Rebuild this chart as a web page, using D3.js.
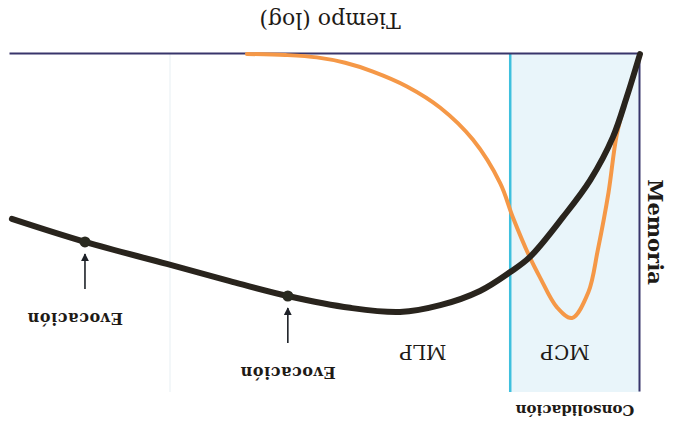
<!DOCTYPE html>
<html>
<head>
<meta charset="utf-8">
<script src="https://cdn.jsdelivr.net/npm/d3@7"></script>
<style>
  body { margin: 0; background: #fff; }
  text { font-family: "DejaVu Serif", serif; fill: #1e1a16; }
</style>
</head>
<body>
<script>
// the original figure is printed upside-down, so it is drawn normally and turned 180 deg
var width = 673;
var height = 427;

// tiempo (log, 0-100) / memoria (0-100)
var timeMLP = [0, 2.1, 4.3, 7.9, 12.2, 17.5, 20.6, 25.4, 31.7, 38.1, 46.0, 55.9, 65.1, 75.1, 88.1, 99.7];
var memMLP = [0, 12.7, 24.6, 37.3, 48.2, 60.1, 64.5, 70.1, 74.3, 76.3, 75.1, 71.6, 67.2, 62.1, 55.6, 48.8];

var timeMCP = [0, 2.1, 3.7, 5.0, 6.7, 8.2, 10.8, 13.2, 15.9, 17.5, 20.2, 22.2, 26.5, 31.7, 37.0, 42.4, 46.8, 51.3, 56.3, 62.4];
var memMCP = [0, 12.7, 24.0, 41.0, 58.0, 70.5, 78.1, 74.9, 66.0, 60.1, 48.2, 38.2, 25.4, 15.9, 9.6, 5.2, 2.6, 1.0, 0.3, 0];

var evocTime = [55.9, 88.1];
var evocMem = [71.6, 55.6];

var consolidacion = 20.6;
var faintLine = 74.6;

var svg = d3.select('body').append('svg').attr('width', width).attr('height', height);

// arrow head
svg.append('defs').append('marker')
    .attr('id', 'head')
    .attr('viewBox', '0 0 10 10')
    .attr('refX', 9).attr('refY', 5)
    .attr('markerWidth', 5).attr('markerHeight', 5)
    .attr('markerUnits', 'strokeWidth')
    .attr('orient', 'auto')
    .append('path').attr('d', 'M0,0 L10,5 L0,10 Z').attr('fill', '#1e2228');

var g = svg.append('g').attr('transform', 'rotate(180,' + width / 2 + ',' + height / 2 + ')');

var x = d3.scaleLinear().domain([0, 100]).range([33, 663]);
var y = d3.scaleLinear().domain([0, 100]).range([373, 35]);

// zona de consolidacion
g.append('rect')
    .attr('x', x(0)).attr('y', y(100))
    .attr('width', x(consolidacion) - x(0))
    .attr('height', y(0) - y(100))
    .attr('fill', '#e9f5fa');

g.append('line')
    .attr('x1', x(faintLine)).attr('x2', x(faintLine))
    .attr('y1', y(0)).attr('y2', y(100))
    .attr('stroke', '#f3f7f9').attr('stroke-width', 2);

g.append('line')
    .attr('x1', x(consolidacion)).attr('x2', x(consolidacion))
    .attr('y1', y(0)).attr('y2', y(100))
    .attr('stroke', '#3fc0de').attr('stroke-width', 2.5);

// ejes
var xAxis = d3.axisBottom(x).tickValues([]).tickSizeOuter(0);
var yAxis = d3.axisLeft(y).tickValues([]).tickSizeOuter(0);
g.append('g').attr('transform', 'translate(0,' + y(0) + ')').call(xAxis)
    .select('.domain').attr('stroke', '#38356b').attr('stroke-width', 2);
g.append('g').attr('transform', 'translate(' + x(0) + ',0)').call(yAxis)
    .select('.domain').attr('stroke', '#38356b').attr('stroke-width', 2);

var line = d3.line()
    .x(function (d) { return x(d[0]); })
    .y(function (d) { return y(d[1]); })
    .curve(d3.curveCatmullRom.alpha(0.5));

g.append('path')
    .datum(d3.zip(timeMCP, memMCP))
    .attr('d', line)
    .attr('fill', 'none')
    .attr('stroke', '#f59847')
    .attr('stroke-width', 4)
    .attr('stroke-linecap', 'round');

g.append('path')
    .datum(d3.zip(timeMLP, memMLP))
    .attr('d', line)
    .attr('fill', 'none')
    .attr('stroke', '#29241d')
    .attr('stroke-width', 6)
    .attr('stroke-linecap', 'round');

// evocaciones
var evoc = d3.zip(evocTime, evocMem);
g.selectAll('.dot').data(evoc).enter().append('circle')
    .attr('class', 'dot')
    .attr('cx', function (d) { return x(d[0]); })
    .attr('cy', function (d) { return y(d[1]); })
    .attr('r', 5.5)
    .attr('fill', '#2a2a20');

g.selectAll('.arrow').data(evoc).enter().append('line')
    .attr('class', 'arrow')
    .attr('x1', function (d) { return x(d[0]); })
    .attr('x2', function (d) { return x(d[0]); })
    .attr('y1', function (d) { return y(d[1]) - 47; })
    .attr('y2', function (d) { return y(d[1]) - 12; })
    .attr('stroke', '#1e2228')
    .attr('stroke-width', 1.6)
    .attr('marker-end', 'url(#head)');

g.selectAll('.evlab').data(evoc).enter().append('text')
    .attr('class', 'evlab')
    .attr('x', function (d, i) { return x(d[0]) + (i === 1 ? 10 : 0); })
    .attr('y', function (d) { return y(d[1]) - 71; })
    .attr('text-anchor', 'middle')
    .attr('font-size', 16)
    .attr('font-weight', 'bold')
    .attr('letter-spacing', 0.6)
    .text('Evocación');

// textos
g.append('text').attr('x', 343).attr('y', 414)
    .attr('text-anchor', 'middle').attr('font-size', 22)
    .text('Tiempo (log)');

g.append('text')
    .attr('transform', 'translate(25,' + 195 + ') rotate(-90)')
    .attr('text-anchor', 'middle').attr('font-size', 21).attr('font-weight', 'bold')
    .text('Memoria');

g.append('text').attr('x', 98).attr('y', 22)
    .attr('text-anchor', 'middle').attr('font-size', 15).attr('font-weight', 'bold')
    .text('Consolidación');

g.append('text').attr('x', 108).attr('y', 82)
    .attr('text-anchor', 'middle').attr('font-size', 20)
    .text('MCP');

g.append('text').attr('x', 250).attr('y', 82)
    .attr('text-anchor', 'middle').attr('font-size', 20)
    .text('MLP');
</script>
</body>
</html>
